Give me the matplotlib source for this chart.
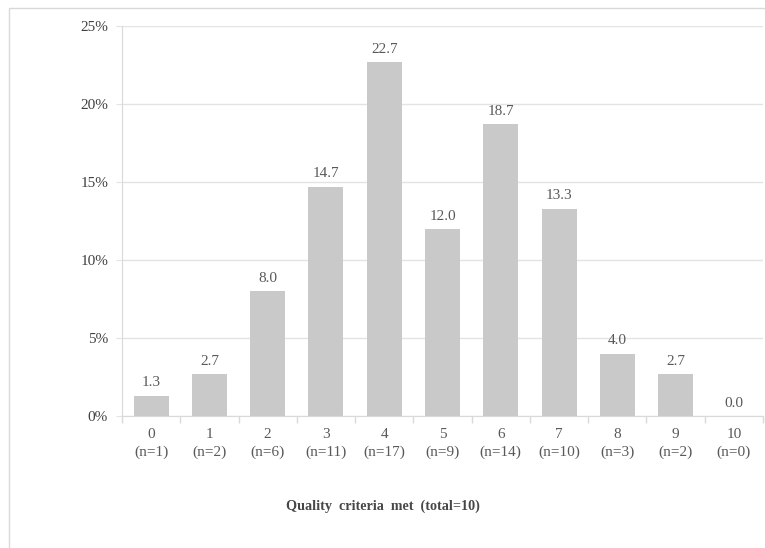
import numpy as np
import matplotlib
matplotlib.use("Agg")
import matplotlib.pyplot as plt
from matplotlib.patches import Rectangle

# criteria met, counts and share of studies (%)
criteria = [0, 1, 2, 3, 4, 5, 6, 7, 8, 9, 10]
counts = [1, 2, 6, 11, 17, 9, 14, 10, 3, 2, 0]
percent = [1.3, 2.7, 8.0, 14.7, 22.7, 12.0, 18.7, 13.3, 4.0, 2.7, 0.0]
yticks = [0, 5, 10, 15, 20, 25]

plt.rcParams['font.family'] = ['Liberation Serif', 'DejaVu Serif']

fig = plt.figure(figsize=(7.65, 5.48), dpi=100)
# outer chart frame (only top and left edges are inside the crop)
fig.patches.append(Rectangle((9/765, -0.1), 1.2, 1 - 8/548 + 0.1, transform=fig.transFigure,
                             fill=False, edgecolor='#d9d9d9', linewidth=1))

ax = fig.add_axes([122/765, 1 - 416/548, 641/765, 390/548])
x = np.arange(len(criteria))
ax.bar(x, percent, width=0.6, color='#c9c9c9', zorder=2)
for xi, p in zip(x, percent):
    ax.text(xi, p + 0.4, '{:.1f}'.format(p), ha='center', va='bottom',
            fontsize=11, color='#595959')

ax.set_xlim(-0.5, len(criteria) - 0.5)
ax.set_ylim(0, 25)
ax.set_yticks(yticks)
ax.set_yticklabels(['{}%'.format(t) for t in yticks])
ax.grid(axis='y', color='#e3e3e3', linewidth=1, zorder=0)

ax.set_xticks(x)
ax.set_xticklabels(['{}\n(n={})'.format(c, n) for c, n in zip(criteria, counts)],
                   linespacing=1.35)
ax.set_xticks(np.arange(-0.5, len(criteria) + 0.5), minor=True)
ax.tick_params(axis='x', which='major', length=0, pad=9, labelsize=11, colors='#595959')
ax.tick_params(axis='x', which='minor', length=5, color='#d9d9d9', width=1)
ax.tick_params(axis='y', length=4, color='#e3e3e3', labelsize=11, colors='#404040', pad=6)

for side in ['top', 'right']:
    ax.spines[side].set_visible(False)
for side in ['left', 'bottom']:
    ax.spines[side].set_color('#d9d9d9')
    ax.spines[side].set_zorder(3)

fig.text(0.5, 1 - 506/548, 'Quality  criteria  met  (total=10)', ha='center', va='center',
         fontsize=10.2, fontweight='bold', color='#474747')

fig.savefig('out.png', dpi=100)
